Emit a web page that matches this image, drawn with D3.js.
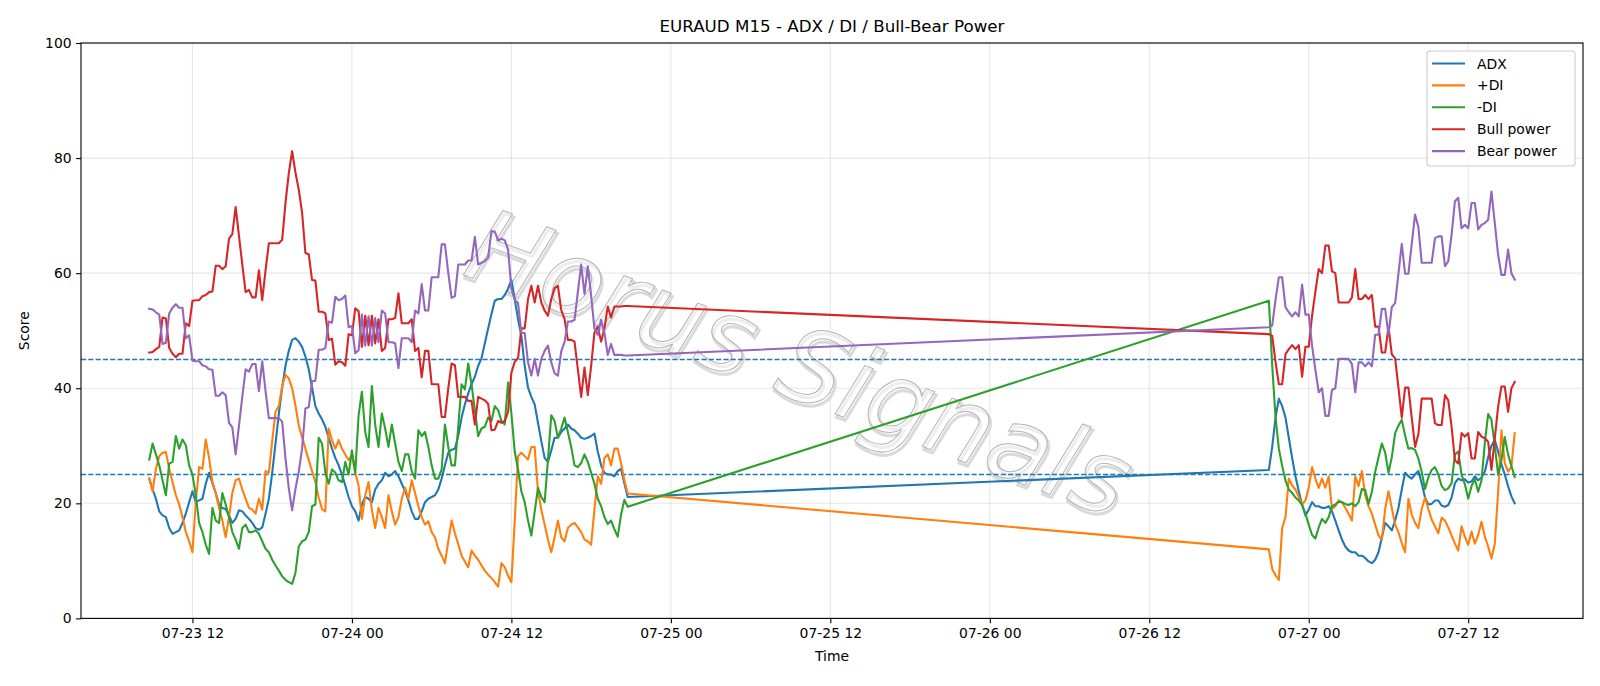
<!DOCTYPE html>
<html>
<head>
<meta charset="utf-8">
<script src="https://cdn.jsdelivr.net/npm/d3@7"></script>
<style>
  html, body { margin: 0; padding: 0; background: #fff; }
  svg { display: block; font-family: "DejaVu Sans", sans-serif; }
</style>
</head>
<body>
<svg id="chart" width="1600" height="686"></svg>
<script>
// ---------- data ----------
const title = "EURAUD M15 - ADX / DI / Bull-Bear Power";
const seriesNames = ["ADX", "+DI", "-DI", "Bull power", "Bear power"];
const seriesColors = ["#1f77b4", "#ff7f0e", "#2ca02c", "#d62728", "#9467bd"];
const yTicks = [0, 20, 40, 60, 80, 100];
const refLevels = [25, 45];
const barMinutes = 15;
// two trading sessions of 15-minute bars (weekend gap between them)
const sessionStarts = ["2020-07-23T08:45:00Z", "2020-07-26T21:00:00Z"];

// session 1 (145 bars)
const adx1 = [24.3,22.4,20.8,18.6,17.9,17.6,15.7,14.7,15.0,15.3,
  16.6,18.2,20.2,22.1,20.2,20.5,20.8,23.4,25.3,23.5,
  21.8,19.8,19.2,19.0,17.9,16.6,17.3,18.8,18.6,17.9,
  17.3,16.6,15.7,15.4,15.8,18.2,20.8,25.3,30.4,35.6,
  40.1,43.9,46.5,48.4,48.7,48.1,47.2,45.5,43.3,40.1,
  36.9,35.6,34.6,33.3,31.4,29.5,27.9,26.6,25.0,23.1,
  21.1,19.5,18.6,17.0,19.8,21.1,20.8,20.2,22.4,23.4,
  24.0,25.3,24.7,25.0,25.6,24.7,23.4,22.1,20.5,18.6,
  17.3,17.3,18.6,20.2,20.8,21.1,21.4,22.4,24.3,26.6,
  28.8,29.3,29.5,31.7,34.9,37.2,39.1,40.7,42.0,43.9,
  45.2,47.8,50.4,52.9,55.2,55.5,55.5,56.2,57.3,58.8,
  55.5,52.0,49.1,43.9,40.1,38.5,37.2,34.0,30.8,27.9,
  27.2,29.2,31.4,31.4,32.4,33.0,33.7,33.0,32.7,32.1,
  31.4,31.2,31.4,31.7,32.1,29.0,26.6,25.3,25.0,25.0,
  24.7,25.6,26.0,23.5,21.1];
const plusDI1 = [24.3,22.1,26.0,28.2,28.8,28.9,26.0,23.7,21.4,19.8,
  17.6,15.0,13.4,11.5,20.2,26.3,26.0,31.1,27.9,23.7,
  21.8,19.2,17.0,14.1,17.6,21.8,24.0,24.3,22.4,20.8,
  19.2,18.9,18.2,20.8,18.9,25.6,25.3,30.8,35.9,36.9,
  40.4,42.3,41.7,40.0,37.0,33.5,31.5,29.5,27.5,25.6,
  23.7,21.0,19.0,18.6,33.0,31.0,29.5,31.0,29.5,28.5,
  27.5,28.5,25.3,23.1,17.3,21.4,23.7,18.9,15.7,19.2,
  17.6,15.7,21.4,18.6,16.3,17.6,20.8,22.7,20.8,24.0,
  21.8,19.5,17.6,16.3,16.9,15.0,14.1,12.1,10.9,9.6,
  13.4,17.0,14.8,12.9,10.9,9.9,8.9,11.8,10.9,10.2,
  9.2,8.3,7.6,7.0,6.3,5.5,9.6,8.9,7.4,6.3,
  17.0,28.2,28.8,28.2,27.6,29.8,29.8,22.1,18.9,16.3,
  13.7,11.5,14.1,17.0,14.1,13.4,15.7,16.3,16.6,15.8,
  15.0,13.7,13.4,12.8,19.0,24.7,23.4,27.9,28.5,26.6,
  29.5,29.5,27.0,24.0,21.7];
const minusDI1 = [27.6,30.4,28.5,26.6,24.0,21.4,26.9,27.2,31.7,29.5,
  31.1,30.1,26.6,25.0,21.4,16.6,15.0,12.8,11.2,19.2,
  17.0,16.6,21.8,19.8,17.6,15.0,13.7,12.1,15.7,16.3,
  15.0,15.0,15.3,14.7,13.4,12.1,11.5,10.2,9.2,8.3,
  7.3,6.7,6.3,6.0,7.9,12.5,13.4,13.7,15.0,19.5,
  19.8,31.4,30.4,25.3,23.4,25.9,25.3,24.0,23.7,27.2,
  25.0,29.2,25.3,35.3,39.4,32.4,29.8,40.4,33.7,29.8,
  35.6,33.0,29.8,33.7,30.4,27.2,25.6,28.5,28.5,25.6,
  24.3,32.7,31.7,32.4,29.8,26.6,24.3,24.3,25.9,33.7,
  29.8,26.6,26.6,33.3,40.7,39.8,44.3,40.7,36.2,31.7,
  33.0,33.3,34.9,34.3,36.9,36.2,34.3,33.7,41.0,35.6,
  29.0,25.9,22.1,20.2,17.0,14.4,18.5,22.7,21.1,20.2,
  27.5,35.3,34.3,31.4,33.0,34.9,32.4,29.8,26.6,26.3,
  27.0,28.5,27.2,25.3,23.4,20.8,19.5,17.6,16.4,17.0,
  15.5,14.2,18.0,20.6,19.4];
const bull1 = [46.2,46.3,46.8,47.2,52.3,52.1,47.0,46.0,45.4,46.0,
  46.0,51.3,50.8,55.2,55.3,55.3,56.0,56.2,56.7,56.8,
  61.3,61.3,60.7,61.2,66.0,66.8,71.5,66.5,61.5,56.7,
  57.1,55.8,55.8,60.5,55.3,60.5,65.2,65.2,65.2,65.2,
  65.8,72.2,77.4,81.2,77.5,74.5,70.5,63.5,63.3,58.8,
  58.7,53.3,53.3,53.0,48.4,48.6,44.1,44.7,44.5,43.9,
  49.4,49.2,53.9,53.4,47.2,52.6,47.5,52.6,47.8,52.0,
  46.5,47.0,52.0,52.0,52.2,56.5,51.3,51.3,51.3,52.0,
  46.5,47.0,41.9,46.5,46.5,40.7,40.7,40.7,35.0,35.0,
  40.0,44.3,44.0,38.5,38.5,38.5,37.8,37.8,33.7,38.5,
  38.2,37.9,37.3,32.7,32.8,34.3,34.0,34.3,35.9,42.7,
  44.6,45.2,50.4,50.4,55.5,57.8,54.9,57.8,54.9,53.5,
  52.6,55.5,57.4,57.8,53.6,52.0,48.4,48.4,48.1,43.3,
  38.5,43.6,38.8,43.9,49.7,50.7,48.1,50.4,54.2,52.3,
  54.2,54.2,54.2,54.3,54.3];
const bear1 = [53.8,53.7,53.2,52.8,47.7,47.9,53.0,54.0,54.6,54.0,
  54.0,48.7,49.2,44.8,44.7,44.7,44.0,43.8,43.3,43.2,
  38.7,38.7,39.3,38.8,34.0,33.2,28.5,33.5,38.5,43.3,
  42.9,44.2,44.2,39.5,44.7,39.5,34.8,34.8,34.8,34.8,
  34.2,27.8,22.6,18.8,22.5,25.5,29.5,36.5,36.7,41.2,
  41.3,46.7,46.7,47.0,51.6,51.4,55.9,55.3,55.5,56.1,
  50.6,50.8,46.1,46.6,52.8,47.4,52.5,47.4,52.2,48.0,
  53.5,53.0,48.0,48.0,47.8,43.5,48.7,48.7,48.7,48.0,
  53.5,53.0,58.1,53.5,53.5,59.3,59.3,59.3,65.0,65.0,
  60.0,55.7,56.0,61.5,61.5,61.5,62.2,62.2,66.3,61.5,
  61.8,62.1,62.7,67.3,67.2,65.7,66.0,65.7,64.1,57.3,
  55.4,54.8,49.6,49.6,44.5,42.2,45.1,42.2,45.1,46.5,
  47.4,44.5,42.6,42.2,46.4,48.0,51.6,51.6,51.9,56.7,
  61.5,56.4,61.2,56.1,50.3,49.3,51.9,49.6,45.8,47.7,
  45.8,45.8,45.8,45.7,45.7];

// session 2 (75 bars)
const adx2 = [25.8,29.8,34.9,38.2,36.9,34.9,31.4,27.9,24.7,22.1,
  19.8,17.9,18.9,20.2,19.5,19.5,19.2,19.2,19.5,18.6,
  17.0,15.3,13.7,12.5,11.8,11.5,11.5,10.9,10.9,10.5,
  9.9,9.6,10.2,11.5,14.0,16.6,16.0,15.3,17.0,19.2,
  22.4,25.3,24.7,24.3,25.0,25.6,23.5,21.0,19.8,19.9,
  20.5,20.5,19.6,19.4,19.7,21.0,23.5,24.3,24.0,24.2,
  23.6,23.8,24.7,24.0,24.5,25.5,28.0,30.0,31.0,29.0,
  26.8,25.0,23.0,21.2,20.0];
const plusDI2 = [12.0,8.6,7.5,6.7,15.7,17.6,24.3,23.1,22.4,21.1,
  19.8,20.5,22.7,26.3,24.3,22.7,24.3,22.7,24.7,19.0,
  19.5,20.5,20.2,19.2,18.2,17.0,24.7,23.0,25.6,21.4,
  19.5,18.2,16.3,14.4,13.7,19.0,22.1,19.2,16.3,15.0,
  13.1,11.5,20.8,18.0,16.6,15.7,19.0,21.0,19.0,17.2,
  16.0,14.8,17.5,17.0,15.8,14.4,13.0,11.8,16.0,14.2,
  12.8,15.1,13.0,14.5,16.8,14.2,12.5,10.4,13.0,22.0,
  32.7,27.0,25.5,26.4,32.2];
const minusDI2 = [55.2,44.0,35.0,29.5,26.5,24.0,22.4,21.8,21.0,20.5,
  19.7,18.2,16.3,14.5,13.9,15.8,17.3,16.6,17.6,19.5,
  19.8,20.3,20.2,19.9,19.7,20.0,19.5,20.2,22.5,22.3,
  19.9,22.0,25.5,28.0,30.4,28.8,25.3,28.0,32.2,33.5,
  34.5,31.8,29.5,29.6,29.3,27.8,25.5,22.5,24.5,25.8,
  26.3,25.0,23.0,22.3,22.6,23.5,28.5,29.0,25.0,23.3,
  20.8,23.0,24.2,22.0,24.0,30.5,35.5,34.5,30.0,25.0,
  27.5,31.5,28.5,26.5,24.6];
const bull2 = [49.4,49.1,44.6,40.7,40.7,45.9,46.8,47.5,46.8,47.5,
  42.0,47.2,47.2,52.6,56.8,60.7,60.0,64.8,64.8,60.3,
  60.0,54.9,54.9,54.9,54.9,55.8,60.7,55.5,55.5,56.2,
  55.5,56.2,50.7,50.7,46.2,46.2,50.7,45.9,45.2,40.1,
  34.9,40.1,40.1,34.9,29.8,32.0,38.2,38.2,38.2,38.2,
  33.9,33.6,33.6,38.8,37.9,33.3,27.5,26.9,32.2,31.6,
  32.2,27.8,27.8,32.4,31.6,31.3,30.7,25.8,31.3,36.8,
  40.3,40.3,35.9,40.0,41.1];
const bear2 = [50.6,50.9,55.4,59.3,59.3,54.1,53.2,52.5,53.2,52.5,
  58.0,52.8,52.8,47.4,43.2,39.3,40.0,35.2,35.2,39.7,
  40.0,45.1,45.1,45.1,45.1,44.2,39.3,44.5,44.5,43.8,
  44.5,43.8,49.3,49.3,53.8,53.8,49.3,54.1,54.8,59.9,
  65.1,59.9,59.9,65.1,70.2,68.0,61.8,61.8,61.8,61.8,
  66.1,66.4,66.4,61.2,62.1,66.7,72.5,73.1,67.8,68.4,
  67.8,72.2,72.2,67.6,68.4,68.7,69.3,74.2,68.7,63.2,
  59.7,59.7,64.1,60.0,58.9];

const session1 = [adx1, plusDI1, minusDI1, bull1, bear1];
const session2 = [adx2, plusDI2, minusDI2, bull2, bear2];
const watermarkText = "Horus Signals";

// ---------- build ----------
const svg = d3.select("#chart");
const plot = { left: 81, right: 1583, top: 43, bottom: 618.4 };

function sessionTimes(startIso, n) {
  const t0 = new Date(startIso);
  return d3.range(n).map(i => d3.utcMinute.offset(t0, i * barMinutes));
}
const times1 = sessionTimes(sessionStarts[0], adx1.length);
const times2 = sessionTimes(sessionStarts[1], adx2.length);
const allTimes = times1.concat(times2);

const series = seriesNames.map((name, k) => ({
  name, color: seriesColors[k],
  points: allTimes.map((t, i) => ({
    t, v: i < times1.length ? session1[k][i] : session2[k][i - times1.length]
  }))
}));

const tMin = d3.min(allTimes), tMax = d3.max(allTimes);
const span = tMax - tMin;
const x = d3.scaleUtc()
  .domain([new Date(+tMin - 0.05 * span), new Date(+tMax + 0.05 * span)])
  .range([plot.left, plot.right]);
const y = d3.scaleLinear().domain([0, 100]).range([plot.bottom, plot.top]);

const xTicks = x.ticks(d3.utcHour.every(12));
const fmt = d3.utcFormat("%m-%d %H");

// grid
const grid = svg.append("g");
grid.selectAll("line.gx").data(xTicks).join("line")
  .attr("x1", d => x(d)).attr("x2", d => x(d))
  .attr("y1", plot.top).attr("y2", plot.bottom)
  .attr("stroke", "#b0b0b0").attr("stroke-opacity", 0.3).attr("stroke-width", 1.1);
grid.selectAll("line.gy").data(yTicks).join("line")
  .attr("x1", plot.left).attr("x2", plot.right)
  .attr("y1", d => y(d)).attr("y2", d => y(d))
  .attr("stroke", "#b0b0b0").attr("stroke-opacity", 0.3).attr("stroke-width", 1.1);

// watermark
const wm = svg.append("g")
  .attr("transform", "translate(800,363) rotate(20.5)");
wm.append("text").text(watermarkText)
  .attr("x", 2.5).attr("y", 2.5)
  .attr("text-anchor", "middle").attr("dominant-baseline", "central")
  .attr("font-size", 102).attr("font-style", "italic").attr("font-family", "DejaVu Sans")
  .attr("fill", "none").attr("stroke", "#dadada").attr("stroke-width", 3);
wm.append("text").text(watermarkText)
  .attr("text-anchor", "middle").attr("dominant-baseline", "central")
  .attr("font-size", 102).attr("font-style", "italic").attr("font-family", "DejaVu Sans")
  .attr("fill", "#ffffff").attr("fill-opacity", 0.5)
  .attr("stroke", "#b4b4b4").attr("stroke-width", 1);

// reference lines
svg.append("g").selectAll("line").data(refLevels).join("line")
  .attr("x1", plot.left).attr("x2", plot.right)
  .attr("y1", d => y(d)).attr("y2", d => y(d))
  .attr("stroke", "#1f77b4").attr("stroke-width", 1.4)
  .attr("stroke-dasharray", "5.1,2.2");

// series lines
const line = d3.line().x(d => x(d.t)).y(d => y(d.v));
svg.append("clipPath").attr("id", "clip").append("rect")
  .attr("x", plot.left).attr("y", plot.top)
  .attr("width", plot.right - plot.left).attr("height", plot.bottom - plot.top);
svg.append("g").attr("clip-path", "url(#clip)")
  .selectAll("path").data(series).join("path")
  .attr("d", d => line(d.points))
  .attr("fill", "none").attr("stroke", d => d.color)
  .attr("stroke-width", 2.1).attr("stroke-linejoin", "round").attr("stroke-linecap", "square");

// axes
const xAxis = svg.append("g").attr("transform", `translate(0,${plot.bottom})`)
  .call(d3.axisBottom(x).tickValues(xTicks).tickFormat(fmt).tickSize(4.9).tickPadding(4.5));
const yAxis = svg.append("g").attr("transform", `translate(${plot.left},0)`)
  .call(d3.axisLeft(y).tickValues(yTicks).tickSize(4.9).tickPadding(4.5));
[xAxis, yAxis].forEach(a => {
  a.select(".domain").remove();
  a.selectAll("line").attr("stroke", "#000").attr("stroke-width", 1.1);
  a.selectAll("text").attr("font-size", 13.9).attr("fill", "#000")
    .attr("font-family", "DejaVu Sans");
});

// frame
svg.append("rect")
  .attr("x", plot.left).attr("y", plot.top)
  .attr("width", plot.right - plot.left).attr("height", plot.bottom - plot.top)
  .attr("fill", "none").attr("stroke", "#000").attr("stroke-width", 1.1);

// labels
svg.append("text").text(title)
  .attr("x", (plot.left + plot.right) / 2).attr("y", 32)
  .attr("text-anchor", "middle").attr("font-size", 16.7).attr("fill", "#000");
svg.append("text").text("Time")
  .attr("x", (plot.left + plot.right) / 2).attr("y", 661)
  .attr("text-anchor", "middle").attr("font-size", 13.9).attr("fill", "#000");
svg.append("text").text("Score")
  .attr("transform", `translate(29,${(plot.top + plot.bottom) / 2}) rotate(-90)`)
  .attr("text-anchor", "middle").attr("font-size", 13.9).attr("fill", "#000");

// legend
const lg = svg.append("g");
lg.append("rect").attr("x", 1427).attr("y", 51).attr("width", 148).attr("height", 115)
  .attr("rx", 3).attr("fill", "#fff").attr("fill-opacity", 0.8)
  .attr("stroke", "#cccccc").attr("stroke-width", 1.1);
const rows = lg.selectAll("g.row").data(series).join("g")
  .attr("transform", (d, i) => `translate(0,${63.5 + i * 21.9})`);
rows.append("line").attr("x1", 1432).attr("x2", 1465).attr("y1", 0).attr("y2", 0)
  .attr("stroke", d => d.color).attr("stroke-width", 2.1);
rows.append("text").text(d => d.name).attr("x", 1477).attr("y", 0)
  .attr("dominant-baseline", "central").attr("font-size", 13.9).attr("fill", "#000");
</script>
</body>
</html>
